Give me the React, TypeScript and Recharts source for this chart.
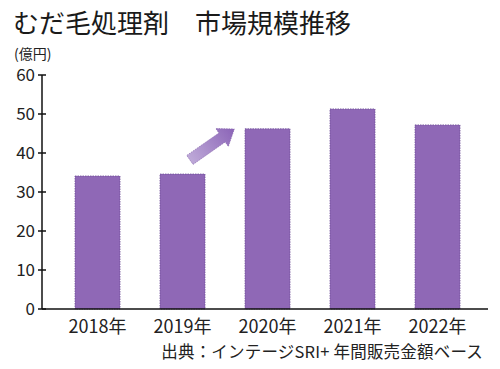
import React from 'react';
import { BarChart, Bar, XAxis, YAxis, ReferenceLine } from 'recharts';

const categories = ['2018年', '2019年', '2020年', '2021年', '2022年'];
const marketSize = [34.1, 34.6, 46.2, 51.3, 47.2];
const yTicks = [0, 10, 20, 30, 40, 50, 60];
const arrowFrom = { x: '2019年', y: 36.9 };
const arrowTo = { x: '2020年', y: 52.1 };

const data = categories.map((c, i) => ({ year: c, value: marketSize[i] }));

const FONT = '"Noto Sans CJK JP", "Noto Sans", sans-serif';

const YTick = (props: any) => {
  const { x, y, payload } = props;
  return (
    <g>
      <line x1={x - 4} x2={x + 4} y1={y} y2={y} stroke="#111" strokeWidth={1.5} />
      <text x={x - 7} y={y} dy="0.36em" textAnchor="end" fontSize={17} fill="#222" fontFamily={FONT}>
        {payload.value}
      </text>
    </g>
  );
};

const ArrowShape = (props: any) => {
  const { x1, y1, x2, y2 } = props;
  if ([x1, y1, x2, y2].some((v) => typeof v !== 'number' || isNaN(v))) return null;
  const t0 = 0.087;
  const t1 = 0.61;
  const sx = x1 + (x2 - x1) * t0;
  const sy = y1 + (y2 - y1) * t0;
  const ex = x1 + (x2 - x1) * t1;
  const ey = y1 + (y2 - y1) * t1;
  const dx = ex - sx;
  const dy = ey - sy;
  const L = Math.sqrt(dx * dx + dy * dy);
  const ux = dx / L;
  const uy = dy / L;
  const nx = -uy;
  const ny = ux;
  const sw = 5.5;
  const hw = 11;
  const hl = 15;
  const bx = ex - ux * hl;
  const by = ey - uy * hl;
  const pts = [
    [sx + nx * sw, sy + ny * sw],
    [bx + nx * sw, by + ny * sw],
    [bx + nx * hw, by + ny * hw],
    [ex, ey],
    [bx - nx * hw, by - ny * hw],
    [bx - nx * sw, by - ny * sw],
    [sx - nx * sw, sy - ny * sw],
  ]
    .map((p) => p.join(','))
    .join(' ');
  return (
    <g>
      <defs>
        <linearGradient id="arrowGrad" gradientUnits="userSpaceOnUse" x1={sx} y1={sy} x2={ex} y2={ey}>
          <stop offset="0" stopColor="#bea9d8" />
          <stop offset="1" stopColor="#8b64b7" />
        </linearGradient>
      </defs>
      <polygon points={pts} fill="url(#arrowGrad)" stroke="#7d5aa6" strokeWidth={0.6} strokeDasharray="1.5 1" />
    </g>
  );
};

export default function App() {
  return (
    <div style={{ position: 'absolute', left: 0, top: 0, width: 500, height: 369, background: '#fff', fontFamily: FONT }}>
      <div style={{ position: 'absolute', left: 13, top: 4, fontSize: 26, color: '#1a1a1a', whiteSpace: 'pre', lineHeight: '36px' }}>
        むだ毛処理剤　市場規模推移
      </div>
      <div style={{ position: 'absolute', left: 14, top: 43, fontSize: 14, color: '#222', lineHeight: '20px' }}>
        (億円)
      </div>
      <BarChart
        width={500}
        height={369}
        data={data}
        margin={{ top: 75, right: 12, bottom: 30, left: 0 }}
        style={{ position: 'absolute', left: 0, top: 0 }}
      >
        <XAxis
          dataKey="year"
          height={30}
          axisLine={{ stroke: '#111', strokeWidth: 1.5 }}
          tickLine={false}
          tickSize={0}
          tickMargin={11}
          padding={{ left: 13, right: 8 }}
          tick={{ fontSize: 18, fill: '#222', fontFamily: FONT }}
          interval={0}
        />
        <YAxis
          domain={[0, 60]}
          ticks={yTicks}
          width={42}
          axisLine={{ stroke: '#111', strokeWidth: 1.5 }}
          tickLine={false}
          tickSize={0}
          tickMargin={0}
          tick={<YTick />}
          interval={0}
        />
        <Bar dataKey="value" fill="#8f68b6" stroke="#6f4f98" strokeWidth={0.8} strokeDasharray="1.5 1" barSize={45} isAnimationActive={false} />
        <ReferenceLine segment={[arrowFrom, arrowTo]} shape={<ArrowShape />} ifOverflow="visible" />
        <text x={483} y={352} dy="0.36em" textAnchor="end" fontSize={16.5} letterSpacing={0.2} fill="#222" fontFamily={FONT}>
          出典：インテージSRI+ 年間販売金額ベース
        </text>
      </BarChart>
    </div>
  );
}
